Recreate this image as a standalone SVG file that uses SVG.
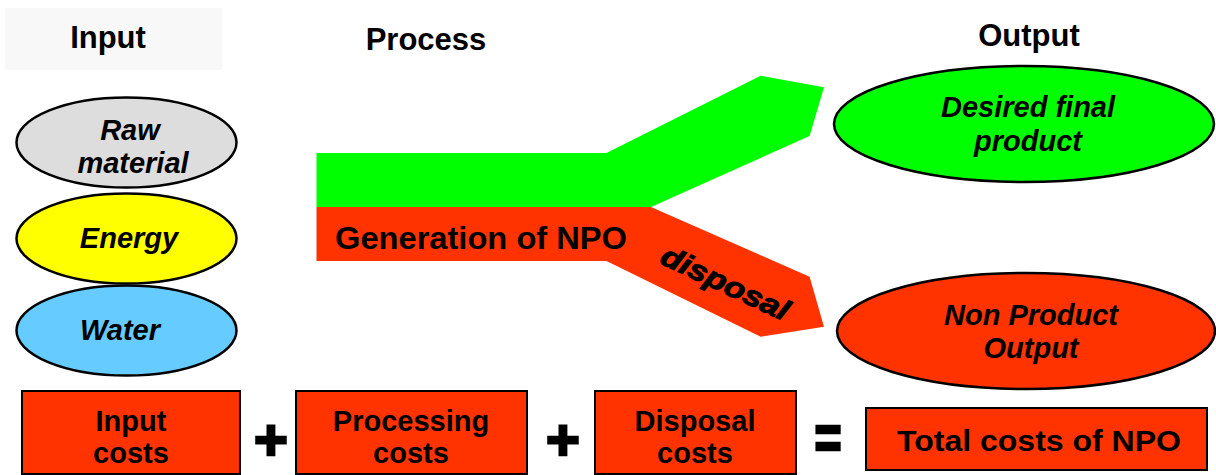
<svg xmlns="http://www.w3.org/2000/svg" width="1216" height="475" viewBox="0 0 1216 475">
<style>
text{font-family:"Liberation Sans",Arial,sans-serif;font-weight:bold;fill:#000;text-anchor:middle}
.h{font-size:31px}
.el{font-size:29px;font-style:italic}
.bx{font-size:29px}
.ell{stroke:#000;stroke-width:2.5}
.box{fill:#ff3300;stroke:#000;stroke-width:2}
.op{font-size:58px;stroke:#000;stroke-width:2.5}
</style>
<rect x="5" y="8" width="217" height="62" fill="#f8f8f8"/>
<g id="headings">
<text class="h" x="108" y="48">Input</text>
<text class="h" x="426" y="50">Process</text>
<text class="h" x="1029" y="46">Output</text>
</g>
<g id="raw"><ellipse class="ell" cx="126.5" cy="142.5" rx="110" ry="45" fill="#dddddd"/>
<text class="el" x="130" y="140">Raw</text><text class="el" x="133" y="173">material</text></g>
<g id="energy"><ellipse class="ell" cx="126.5" cy="238.5" rx="110" ry="45" fill="#ffff00"/>
<text class="el" x="129" y="248">Energy</text></g>
<g id="water"><ellipse class="ell" cx="126.5" cy="330.5" rx="110" ry="45" fill="#66ccff"/>
<text class="el" x="120" y="340">Water</text></g>
<g id="connectors">
<polygon points="316.5,153 606.5,153 760.7,75.7 824,87.3 809.6,136 651,207 316.5,207" fill="#00ff00"/>
<polygon points="316.5,207 651,207 809.6,276.7 824,326.7 760.7,336.7 606.5,261 316.5,261" fill="#ff3300"/>
<text class="h" x="481" y="249" font-size="33" textLength="292" lengthAdjust="spacingAndGlyphs">Generation of NPO</text>
<text class="el" x="0" y="0" font-size="38" stroke="#000" stroke-width="1" textLength="138" lengthAdjust="spacingAndGlyphs" transform="translate(721,292) rotate(25)">disposal</text>
</g>
<g id="desired"><ellipse class="ell" cx="1024" cy="124" rx="190" ry="58" fill="#00ff00"/>
<text class="el" x="1028" y="117">Desired final</text><text class="el" x="1028" y="151">product</text></g>
<g id="npo"><ellipse class="ell" cx="1026" cy="331" rx="189" ry="58" fill="#ff3300"/>
<text class="el" x="1031" y="325">Non Product</text><text class="el" x="1031" y="358">Output</text></g>
<g id="inputcosts"><rect class="box" x="22" y="391" width="218" height="83"/>
<text class="bx" x="131" y="431">Input</text><text class="bx" x="131" y="463">costs</text></g>
<text class="op" x="271" y="460">+</text>
<g id="processingcosts"><rect class="box" x="296" y="391" width="231" height="83"/>
<text class="bx" x="411" y="431">Processing</text><text class="bx" x="411" y="463">costs</text></g>
<text class="op" x="563" y="460">+</text>
<g id="disposalcosts"><rect class="box" x="595" y="391" width="201" height="83"/>
<text class="bx" x="695" y="431">Disposal</text><text class="bx" x="695" y="463">costs</text></g>
<text class="op" font-size="44" transform="translate(828,459) scale(0.8,1.1)">=</text>
<g id="totalcosts"><rect class="box" x="866" y="408" width="341" height="62"/>
<text class="bx" x="1039" y="451" font-size="33" textLength="284" lengthAdjust="spacingAndGlyphs">Total costs of NPO</text></g>
</svg>
